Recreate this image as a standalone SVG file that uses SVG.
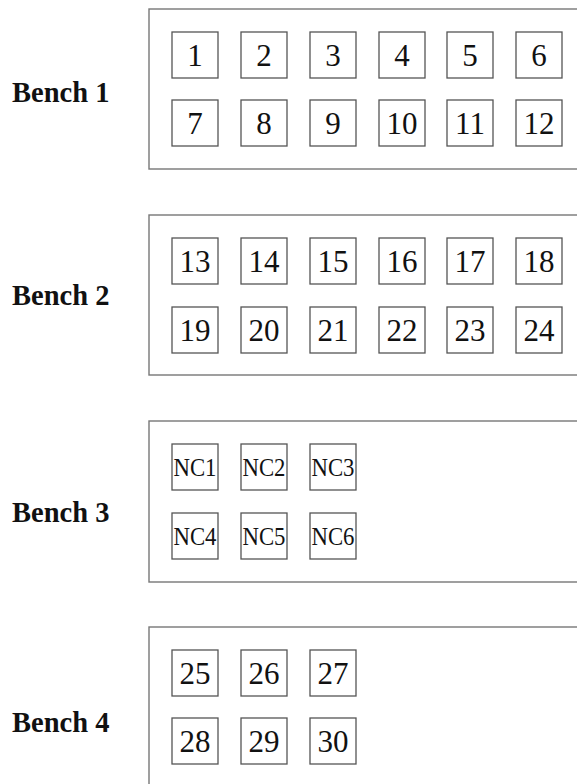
<svg xmlns="http://www.w3.org/2000/svg" width="577" height="784" viewBox="0 0 577 784">
<style>
.bench{fill:none;stroke:#777;stroke-width:1.4}
.box{fill:#fff;stroke:#555;stroke-width:1.3}
.lbl{font-family:"Liberation Serif","Times New Roman",serif;font-weight:bold;font-size:28.5px;fill:#111}
.num{font-family:"Liberation Serif","Times New Roman",serif;font-size:31px;fill:#111;text-anchor:middle}
.nc{font-family:"Liberation Serif","Times New Roman",serif;font-size:25px;fill:#111;text-anchor:middle}
</style>
<rect width="577" height="784" fill="#fff"/>
<defs>
<rect id="b" class="box" width="46" height="46"/>
</defs>
<g id="bench1">
<rect class="bench" x="149" y="9" width="440" height="160"/>
<text class="lbl" x="12" y="101.7">Bench 1</text>
</g>
<g id="bench2">
<rect class="bench" x="149" y="215" width="440" height="160"/>
<text class="lbl" x="12" y="305">Bench 2</text>
</g>
<g id="bench3">
<rect class="bench" x="149" y="421" width="440" height="161"/>
<text class="lbl" x="12" y="522">Bench 3</text>
</g>
<g id="bench4">
<rect class="bench" x="149" y="627" width="440" height="170"/>
<text class="lbl" x="12" y="732">Bench 4</text>
</g>
<g id="n1"><use href="#b" x="172" y="32"/><text class="num" x="195" y="65.5">1</text></g>
<g id="n2"><use href="#b" x="241" y="32"/><text class="num" x="264" y="65.5">2</text></g>
<g id="n3"><use href="#b" x="310" y="32"/><text class="num" x="333" y="65.5">3</text></g>
<g id="n4"><use href="#b" x="379" y="32"/><text class="num" x="402" y="65.5">4</text></g>
<g id="n5"><use href="#b" x="447" y="32"/><text class="num" x="470" y="65.5">5</text></g>
<g id="n6"><use href="#b" x="516" y="32"/><text class="num" x="539" y="65.5">6</text></g>
<g id="n7"><use href="#b" x="172" y="100"/><text class="num" x="195" y="133.5">7</text></g>
<g id="n8"><use href="#b" x="241" y="100"/><text class="num" x="264" y="133.5">8</text></g>
<g id="n9"><use href="#b" x="310" y="100"/><text class="num" x="333" y="133.5">9</text></g>
<g id="n10"><use href="#b" x="379" y="100"/><text class="num" x="402" y="133.5">10</text></g>
<g id="n11"><use href="#b" x="447" y="100"/><text class="num" x="470" y="133.5">11</text></g>
<g id="n12"><use href="#b" x="516" y="100"/><text class="num" x="539" y="133.5">12</text></g>
<g id="n13"><use href="#b" x="172" y="238"/><text class="num" x="195" y="271.5">13</text></g>
<g id="n14"><use href="#b" x="241" y="238"/><text class="num" x="264" y="271.5">14</text></g>
<g id="n15"><use href="#b" x="310" y="238"/><text class="num" x="333" y="271.5">15</text></g>
<g id="n16"><use href="#b" x="379" y="238"/><text class="num" x="402" y="271.5">16</text></g>
<g id="n17"><use href="#b" x="447" y="238"/><text class="num" x="470" y="271.5">17</text></g>
<g id="n18"><use href="#b" x="516" y="238"/><text class="num" x="539" y="271.5">18</text></g>
<g id="n19"><use href="#b" x="172" y="307"/><text class="num" x="195" y="340.5">19</text></g>
<g id="n20"><use href="#b" x="241" y="307"/><text class="num" x="264" y="340.5">20</text></g>
<g id="n21"><use href="#b" x="310" y="307"/><text class="num" x="333" y="340.5">21</text></g>
<g id="n22"><use href="#b" x="379" y="307"/><text class="num" x="402" y="340.5">22</text></g>
<g id="n23"><use href="#b" x="447" y="307"/><text class="num" x="470" y="340.5">23</text></g>
<g id="n24"><use href="#b" x="516" y="307"/><text class="num" x="539" y="340.5">24</text></g>
<g id="nc1"><use href="#b" x="172" y="444"/><text class="nc" x="195" y="476" textLength="43" lengthAdjust="spacingAndGlyphs">NC1</text></g>
<g id="nc2"><use href="#b" x="241" y="444"/><text class="nc" x="264" y="476" textLength="43" lengthAdjust="spacingAndGlyphs">NC2</text></g>
<g id="nc3"><use href="#b" x="310" y="444"/><text class="nc" x="333" y="476" textLength="43" lengthAdjust="spacingAndGlyphs">NC3</text></g>
<g id="nc4"><use href="#b" x="172" y="513"/><text class="nc" x="195" y="545" textLength="43" lengthAdjust="spacingAndGlyphs">NC4</text></g>
<g id="nc5"><use href="#b" x="241" y="513"/><text class="nc" x="264" y="545" textLength="43" lengthAdjust="spacingAndGlyphs">NC5</text></g>
<g id="nc6"><use href="#b" x="310" y="513"/><text class="nc" x="333" y="545" textLength="43" lengthAdjust="spacingAndGlyphs">NC6</text></g>
<g id="n25"><use href="#b" x="172" y="650"/><text class="num" x="195" y="683.5">25</text></g>
<g id="n26"><use href="#b" x="241" y="650"/><text class="num" x="264" y="683.5">26</text></g>
<g id="n27"><use href="#b" x="310" y="650"/><text class="num" x="333" y="683.5">27</text></g>
<g id="n28"><use href="#b" x="172" y="718"/><text class="num" x="195" y="751.5">28</text></g>
<g id="n29"><use href="#b" x="241" y="718"/><text class="num" x="264" y="751.5">29</text></g>
<g id="n30"><use href="#b" x="310" y="718"/><text class="num" x="333" y="751.5">30</text></g>
<g id="connectors"/>
</svg>
